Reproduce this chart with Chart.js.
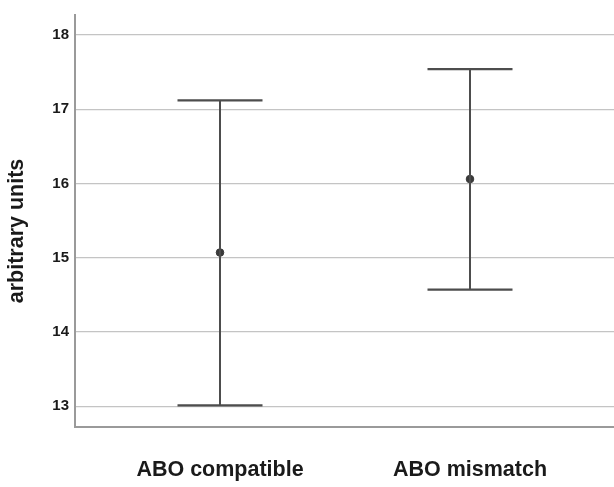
<!DOCTYPE html>
<html>
<head>
<meta charset="utf-8">
<script src="https://cdn.jsdelivr.net/npm/chart.js@4.4.1/dist/chart.umd.min.js"></script>
<style>
  html, body { margin: 0; padding: 0; background: #fff; }
  #wrap { width: 614px; height: 487px; position: relative; }
</style>
</head>
<body>
<div id="wrap"><canvas id="chartErr"></canvas></div>
<script>
const categories = ['ABO compatible', 'ABO mismatch'];
const means = [15.07, 16.06];
const lower = [13.01, 14.57];
const upper = [17.12, 17.54];
const yTicks = [13, 14, 15, 16, 17, 18];
const yTitle = 'arbitrary units';

const FONT = '"Liberation Sans", Arial, Helvetica, sans-serif';
const whiskerColor = '#4d4d4d';

// vertical whisker lines, one dataset per category
const whiskers = categories.map((c, i) => ({
    type: 'line',
    data: [{ x: i, y: lower[i] }, { x: i, y: upper[i] }],
    borderColor: whiskerColor,
    borderWidth: 2,
    pointRadius: 0,
    fill: false
}));

// caps drawn as 'line' point markers at the ends
const caps = {
    type: 'scatter',
    data: categories.flatMap((c, i) => [{ x: i, y: lower[i] }, { x: i, y: upper[i] }]),
    pointStyle: 'line',
    pointRadius: 42.5,
    borderColor: whiskerColor,
    borderWidth: 2.2
};

const meanPts = {
    type: 'scatter',
    data: categories.map((c, i) => ({ x: i, y: means[i] })),
    pointStyle: 'circle',
    pointRadius: 3.8,
    backgroundColor: '#3a3a3a',
    borderColor: '#3a3a3a',
    borderWidth: 1
};

const yTitlePlugin = {
    id: 'yTitle',
    afterDraw(chart) {
        const ctx = chart.ctx;
        ctx.save();
        ctx.translate(17, 231);
        ctx.rotate(-Math.PI / 2);
        ctx.font = 'bold 21.5px ' + FONT;
        ctx.fillStyle = '#1a1a1a';
        ctx.textAlign = 'center';
        ctx.textBaseline = 'middle';
        ctx.fillText(yTitle, 0, 0);
        ctx.restore();
    }
};

const ctx = document.getElementById('chartErr').getContext('2d');
new Chart(ctx, {
    data: { datasets: [...whiskers, caps, meanPts] },
    options: {
        responsive: true,
        maintainAspectRatio: false,
        animation: false,
        layout: { autoPadding: false, padding: { top: 12, left: 0, right: 0, bottom: 0 } },
        plugins: {
            legend: { display: false },
            tooltip: { enabled: false }
        },
        scales: {
            x: {
                type: 'linear',
                min: -0.58,
                max: 1.576,
                afterBuildTicks: s => { s.ticks = categories.map((c, i) => ({ value: i })); },
                afterFit: s => { s.height = 60; },
                grid: { display: false, drawTicks: false },
                border: { display: true, color: '#9a9a9a', width: 2 },
                ticks: {
                    padding: 30,
                    color: '#1a1a1a',
                    font: { family: FONT, size: 21.5, weight: 'bold' },
                    callback: v => categories[v]
                }
            },
            y: {
                min: 12.72,
                max: 18.27,
                afterBuildTicks: s => { s.ticks = yTicks.map(v => ({ value: v })); },
                afterFit: s => { s.width = 75; },
                grid: { color: '#c4c4c4', lineWidth: 1.3, drawTicks: false },
                border: { display: true, color: '#9a9a9a', width: 2 },
                ticks: {
                    padding: 6,
                    color: '#1a1a1a',
                    font: { family: FONT, size: 15, weight: 'bold' }
                }
            }
        }
    },
    plugins: [yTitlePlugin]
});
</script>
</body>
</html>
